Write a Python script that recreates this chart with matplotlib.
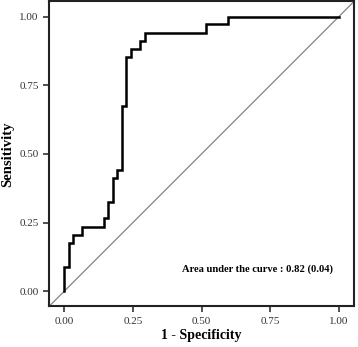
import numpy as np
import matplotlib
matplotlib.use('Agg')
import matplotlib.pyplot as plt

# ROC step curve
fpr = [0.0, 0.0, 0.018, 0.018, 0.033, 0.033, 0.066, 0.066, 0.146, 0.146, 0.161, 0.161,
       0.178, 0.178, 0.193, 0.193, 0.211, 0.211, 0.226, 0.226, 0.243, 0.243, 0.276, 0.276,
       0.294, 0.294, 0.516, 0.516, 0.598, 0.598, 1.0]
tpr = [0.0, 0.088, 0.088, 0.176, 0.176, 0.206, 0.206, 0.235, 0.235, 0.265, 0.265, 0.324,
       0.324, 0.412, 0.412, 0.441, 0.441, 0.676, 0.676, 0.853, 0.853, 0.882, 0.882, 0.912,
       0.912, 0.941, 0.941, 0.971, 0.971, 1.0, 1.0]
ticks = [0.0, 0.25, 0.5, 0.75, 1.0]
tick_labels = ['0.00', '0.25', '0.50', '0.75', '1.00']
auc_text = 'Area under the curve : 0.82 (0.04)'

plt.rcParams['font.family'] = ['Liberation Serif', 'DejaVu Serif']

fig = plt.figure(figsize=(3.58, 3.47), dpi=100)
ax = fig.add_axes([0.137, 0.117, 0.852, 0.879])

lo, hi = -0.055, 1.055
ax.plot([lo, hi], [lo, hi], color='#8c8c8c', lw=1.0, zorder=1)
ax.plot(fpr, tpr, color='black', lw=1.8, zorder=2, solid_joinstyle='miter')

ax.set_xlim(lo, hi)
ax.set_ylim(lo, hi)
ax.set_xticks(ticks)
ax.set_xticklabels(tick_labels)
ax.set_yticks(ticks)
ax.set_yticklabels(tick_labels)
ax.tick_params(labelsize=8, length=4, width=1.2, colors='#333333', labelcolor='#333333')

for sp in ax.spines.values():
    sp.set_linewidth(1.5)
    sp.set_color('#222222')

ax.set_xlabel('1 - Specificity', fontsize=10, fontweight='bold', labelpad=2)
ax.set_ylabel('Sensitivity', fontsize=10.5, fontweight='bold', labelpad=4)

ax.text(0.428, 0.082, auc_text, fontsize=7.6, fontweight='bold', ha='left', va='center')

fig.savefig('out.png', dpi=100)
